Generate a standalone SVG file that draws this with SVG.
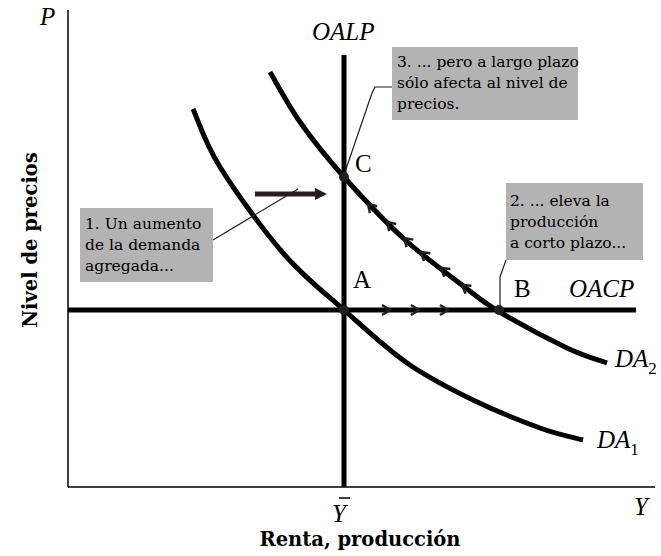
<svg xmlns="http://www.w3.org/2000/svg" width="661" height="556" viewBox="0 0 661 556">
<style>
.ax{stroke:#000;stroke-width:1.5;fill:none}
.thick{stroke:#000;stroke-width:5;fill:none}
.curve{stroke:#000;stroke-width:5;fill:none;stroke-linecap:butt}
.lead{stroke:#231f20;stroke-width:1.2;fill:none}
.box{fill:#b3b3b3}
.bt{font-family:"DejaVu Serif",serif;font-size:15.5px;fill:#000}
.it{font-family:"Liberation Serif",serif;font-style:italic;font-size:25px;fill:#000}
.rm{font-family:"Liberation Serif",serif;font-size:25px;fill:#000}
.sub{font-size:17px;font-style:normal}
.bold{font-family:"DejaVu Serif",serif;font-weight:bold;font-size:19.5px;fill:#000}
.dot{fill:#231f20}
.chev{stroke:#231f20;stroke-width:2.5;fill:none}
</style>
<defs>
<path id="chev" d="M-8,-5 L0,0 L-8,5"/>
</defs>
<g id="axes">
<line class="ax" x1="68" y1="10" x2="68" y2="487"/>
<line class="ax" x1="68" y1="487" x2="655" y2="487"/>
<text class="it" x="40" y="25">P</text>
<text class="it" x="634" y="515">Y</text>
<text class="it" x="332" y="522">Y</text>
<line class="ax" x1="339" y1="498" x2="350" y2="498"/>
<text class="bold" x="360" y="546" text-anchor="middle">Renta, producción</text>
<text class="bold" transform="translate(37,240) rotate(-90)" text-anchor="middle">Nivel de precios</text>
</g>
<g id="OALP">
<line class="thick" x1="344" y1="55" x2="344" y2="487"/>
<text class="it" x="312" y="40">OALP</text>
</g>
<g id="OACP">
<line class="thick" x1="68" y1="310" x2="636" y2="310"/>
<text class="it" x="569" y="297">OACP</text>
</g>
<g id="DA1">
<path class="curve" d="M193,109 C197.5,118.7 205,143 220,167 C235,191 262.3,229.2 283,253 C303.7,276.8 323.3,291.7 344,310 C364.7,328.3 385.5,348 407,363 C428.5,378 450.8,389.2 473,400 C495.2,410.8 521.7,421.3 540,428 C558.3,434.7 575.8,438 583,440"/>
<text class="it" x="597" y="448">DA<tspan class="sub" dy="7">1</tspan></text>
</g>
<g id="DA2">
<path class="curve" d="M270,72 C275,80.3 287.7,104.5 300,122 C312.3,139.5 326.8,157.7 344,177 C361.2,196.3 383.3,220 403,238 C422.7,256 446.2,272.8 462,285 C477.8,297.2 483,302 498,311 C515.5,321.5 548.8,339.3 567,348 C585.2,356.7 600.3,360.5 607,363"/>
<text class="it" x="615" y="367">DA<tspan class="sub" dy="7">2</tspan></text>
</g>
<g id="connectors">
<g class="chev">
<use href="#chev" transform="translate(390,310)"/>
<use href="#chev" transform="translate(419,310)"/>
<use href="#chev" transform="translate(448,310)"/>
<use href="#chev" transform="translate(368,204) rotate(-134)"/>
<use href="#chev" transform="translate(387,222) rotate(-136)"/>
<use href="#chev" transform="translate(404,238) rotate(-138)"/>
<use href="#chev" transform="translate(421,252) rotate(-140)"/>
<use href="#chev" transform="translate(441,268) rotate(-142)"/>
<use href="#chev" transform="translate(462,285) rotate(-144)"/>
</g>
<line x1="255" y1="194" x2="317" y2="194" stroke="#231f20" stroke-width="5"/>
<polygon points="315,188 327,194 315,200" fill="#231f20"/>
<path class="lead" d="M213,240 L298,189"/>
<path class="lead" d="M392,87 L375,87 L372,93 L345,172"/>
<path class="lead" d="M506,260 L500,277 L500,306"/>
</g>
<g id="A">
<circle class="dot" cx="344" cy="310" r="5"/>
<text class="rm" x="353" y="288">A</text>
</g>
<g id="B">
<circle class="dot" cx="499" cy="310" r="5"/>
<text class="rm" x="514" y="297">B</text>
</g>
<g id="C">
<circle class="dot" cx="344" cy="177" r="5"/>
<text class="rm" x="355" y="172">C</text>
</g>
<g id="note1">
<rect class="box" x="80" y="208" width="133" height="74"/>
<text class="bt" x="85" y="229">1. Un aumento</text>
<text class="bt" x="85" y="250">de la demanda</text>
<text class="bt" x="85" y="271">agregada...</text>
</g>
<g id="note2">
<rect class="box" x="506" y="183" width="137" height="77"/>
<text class="bt" x="510" y="206">2. ... eleva la</text>
<text class="bt" x="510" y="227">producción</text>
<text class="bt" x="510" y="248">a corto plazo...</text>
</g>
<g id="note3">
<rect class="box" x="392" y="47" width="186" height="73"/>
<text class="bt" x="397" y="67">3. ... pero a largo plazo</text>
<text class="bt" x="397" y="88">sólo afecta al nivel de</text>
<text class="bt" x="397" y="109">precios.</text>
</g>
</svg>
